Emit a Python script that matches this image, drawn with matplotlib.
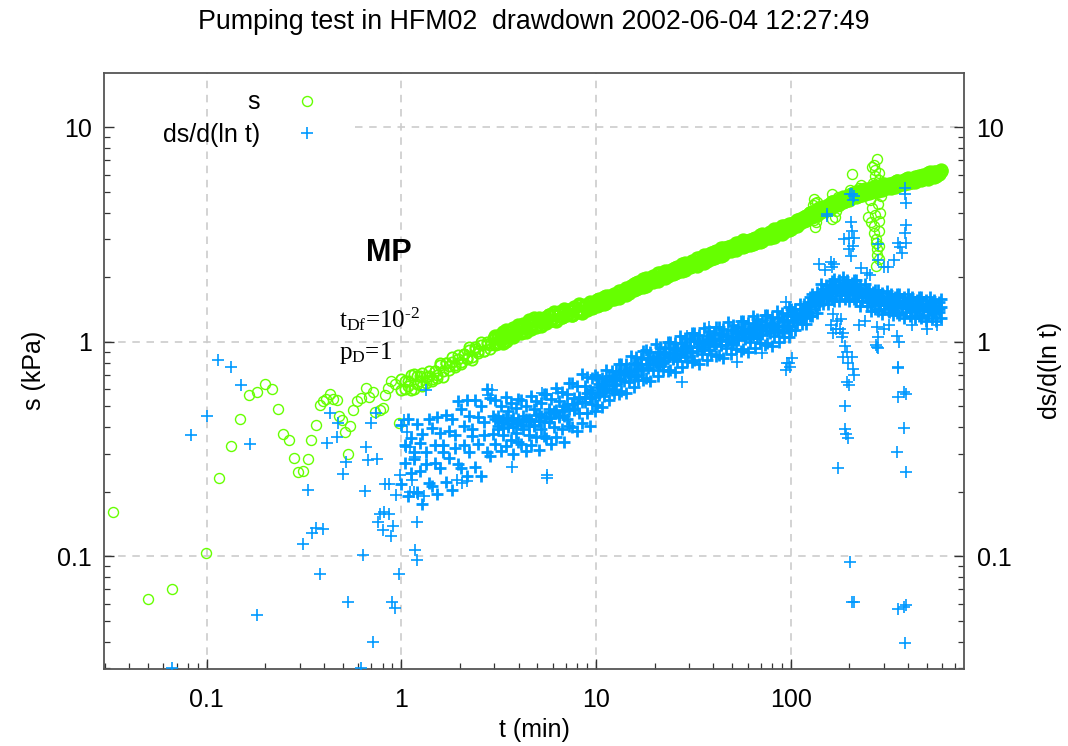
import numpy as np
import matplotlib
matplotlib.use("Agg")
import matplotlib.pyplot as plt
from matplotlib.ticker import LogLocator, NullFormatter

plt.rcParams['font.family'] = ['Liberation Sans', 'DejaVu Sans']
plt.rcParams['mathtext.fontset'] = 'custom'
plt.rcParams['mathtext.rm'] = 'Liberation Serif'
plt.rcParams['mathtext.it'] = 'Liberation Serif:italic'
plt.rcParams['mathtext.bf'] = 'Liberation Serif:bold'

# ---------------- data ----------------
# early drawdown points, t < 1 min
t_s_early = [0.0332, 0.050, 0.066, 0.0994, 0.116, 0.133, 0.149, 0.165, 0.181, 0.199,
             0.216, 0.232, 0.247, 0.265, 0.280, 0.296, 0.313, 0.330, 0.345, 0.363,
             0.381, 0.397, 0.410, 0.428, 0.446, 0.465, 0.478, 0.497, 0.515, 0.530,
             0.547, 0.564, 0.589, 0.617, 0.655, 0.684, 0.717, 0.736, 0.774, 0.800,
             0.828, 0.851, 0.886, 0.932, 0.973]
s_early = [0.160, 0.063, 0.0706, 0.103, 0.231, 0.326, 0.438, 0.563, 0.584, 0.638,
           0.605, 0.485, 0.373, 0.348, 0.286, 0.246, 0.251, 0.285, 0.348, 0.411,
           0.508, 0.530, 0.540, 0.573, 0.543, 0.534, 0.451, 0.432, 0.381, 0.301,
           0.404, 0.483, 0.532, 0.545, 0.611, 0.555, 0.580, 0.472, 0.481, 0.490,
           0.565, 0.608, 0.657, 0.637, 0.420]

# dense part of the record, t >= 1 min
t_band = [1.00, 1.04, 1.08, 1.12, 1.16, 1.20, 1.24, 1.28, 1.33, 1.38, 1.43, 1.48, 1.53, 1.58,
          1.64, 1.70, 1.76, 1.82, 1.88, 1.95, 2.02, 2.09, 2.16, 2.23, 2.31, 2.39, 2.47, 2.56,
          2.65, 2.74, 2.84, 2.94,
          3.04, 3.13, 3.23, 3.33, 3.43, 3.53, 3.64, 3.75, 3.87, 3.99, 4.11, 4.23, 4.36, 4.50,
          4.64, 4.78, 4.92, 5.07, 5.23, 5.39, 5.55, 5.72, 5.90, 6.08, 6.26, 6.45, 6.65, 6.85,
          7.06, 7.28, 7.50, 7.73, 7.96, 8.21, 8.46, 8.72, 8.98, 9.26, 9.54, 9.83,
          10.1, 10.4, 10.7, 11.0, 11.3, 11.7, 12.0, 12.4, 12.7, 13.1, 13.5, 13.9, 14.3, 14.7,
          15.1, 15.6, 16.0, 16.5, 17.0, 17.5, 18.0, 18.5, 19.0, 19.6, 20.2, 20.8, 21.4, 22.0,
          22.6, 23.3, 24.0, 24.7, 25.4, 26.1, 26.9, 27.7, 28.5, 29.3, 30.2, 31.1, 32.0, 32.9,
          33.9, 34.9, 35.9, 36.9, 38.0, 39.1, 40.2, 41.4, 42.6, 43.8, 45.1, 46.4, 47.8, 49.2,
          50.6, 52.1, 53.6, 55.2, 56.8, 58.4, 60.1, 61.9, 63.7, 65.5, 67.4, 69.4, 71.4, 73.5,
          75.6, 77.8, 80.1, 82.4, 84.8, 87.3, 89.8, 92.4, 95.1, 97.9,
          100, 103, 105, 108, 111, 114, 117, 120, 123, 126, 129, 133, 136, 140, 143, 147,
          151, 155, 159, 163, 167, 171, 176, 180, 185, 190, 195, 200, 205, 210, 216, 222,
          227, 233, 239, 246, 252, 259, 265, 272, 279, 287, 294, 302, 310, 318, 326, 334,
          343, 352, 361, 371, 380, 390, 400, 411, 421, 432, 444, 455, 467, 479, 492, 505,
          518, 531, 545, 559, 574, 589]
# two readings of the drawdown band (upper/lower side of the band) at these times
s_band = [0.669, 0.605, 0.656, 0.596, 0.705, 0.638, 0.691, 0.621, 0.682, 0.730, 0.667, 0.729,
          0.678, 0.777, 0.733, 0.800, 0.737, 0.806, 0.780, 0.869, 0.802, 0.874, 0.844, 0.919,
          0.845, 0.921, 0.890, 0.970, 0.910, 0.993, 0.961, 1.038,
          1.064, 0.985, 1.060, 0.990, 1.130, 1.057, 1.125, 1.051, 1.121, 1.192, 1.115, 1.175,
          1.107, 1.240, 1.191, 1.287, 1.175, 1.260, 1.185, 1.296, 1.231, 1.332, 1.267, 1.331,
          1.263, 1.381, 1.300, 1.391, 1.335, 1.400, 1.329, 1.438, 1.393, 1.476, 1.388, 1.472,
          1.425, 1.511, 1.435, 1.521,
          1.557, 1.482, 1.559, 1.498, 1.638, 1.579, 1.641, 1.579, 1.642, 1.727, 1.645, 1.714,
          1.645, 1.783, 1.765, 1.859, 1.875, 1.786, 1.879, 1.805, 1.975, 1.898, 1.976, 1.900,
          1.980, 2.081, 1.981, 2.062, 1.979, 2.146, 2.085, 2.193, 2.215, 2.106, 2.217, 2.130,
          2.331, 2.241, 2.334, 2.243, 2.337, 2.455, 2.338, 2.434, 2.337, 2.533, 2.461, 2.587,
          2.613, 2.486, 2.616, 2.512, 2.750, 2.644, 2.754, 2.646, 2.755, 2.896, 2.757, 2.871,
          2.757, 2.959, 2.874, 2.992, 3.023, 2.875, 3.025, 2.906, 3.180, 3.059, 3.184, 3.059,
          3.187, 3.349, 3.188, 3.321, 3.188, 3.456, 3.356, 3.529,
          3.520, 3.432, 3.571, 3.478, 3.745, 3.648, 3.808, 3.705, 3.828, 3.990, 3.842, 4.021,
          3.904, 4.165, 4.086, 4.259, 4.137, 4.307, 4.180, 4.484, 4.352, 4.525, 4.397, 4.528,
          4.715, 4.534, 4.722, 4.582, 4.866, 4.769, 4.967, 4.804, 4.978, 4.811, 5.140, 4.974,
          5.155, 4.985, 5.115, 5.301, 5.074, 5.265, 5.087, 5.383, 5.257, 5.448, 5.263, 5.455,
          5.271, 5.631, 5.444, 5.645, 5.454, 5.598, 5.799, 5.552, 5.754, 5.559, 5.882, 5.741,
          5.950, 5.751, 5.963, 5.761, 6.153, 5.948, 6.165, 5.957, 6.116, 6.276]
s_band_b = [0.593, 0.656, 0.624, 0.700, 0.601, 0.691, 0.657, 0.715, 0.641, 0.689, 0.653, 0.729,
            0.699, 0.792, 0.688, 0.800, 0.768, 0.845, 0.764, 0.828, 0.785, 0.874, 0.835, 0.945,
            0.818, 0.948, 0.909, 0.998, 0.901, 0.974, 0.922, 1.028,
            0.972, 1.067, 1.018, 1.116, 1.013, 1.111, 1.059, 1.161, 1.110, 1.158, 1.103, 1.210,
            1.154, 1.264, 1.143, 1.250, 1.187, 1.297, 1.235, 1.283, 1.218, 1.332, 1.267, 1.383,
            1.250, 1.368, 1.300, 1.418, 1.348, 1.400, 1.329, 1.452, 1.379, 1.504, 1.359, 1.486,
            1.410, 1.540, 1.464, 1.521,
            1.467, 1.574, 1.513, 1.622, 1.512, 1.627, 1.577, 1.677, 1.626, 1.595, 1.729, 1.663,
            1.783, 1.679, 1.819, 1.750, 1.766, 1.896, 1.823, 1.955, 1.823, 1.956, 1.898, 2.017,
            1.960, 1.921, 2.083, 2.001, 2.143, 2.021, 2.148, 2.065, 2.086, 2.237, 2.151, 2.308,
            2.151, 2.308, 2.242, 2.381, 2.314, 2.266, 2.458, 2.362, 2.532, 2.385, 2.536, 2.436,
            2.461, 2.640, 2.538, 2.721, 2.538, 2.723, 2.646, 2.809, 2.727, 2.674, 2.897, 2.786,
            2.987, 2.786, 2.961, 2.818, 2.847, 3.053, 2.935, 3.148, 2.936, 3.152, 3.060, 3.249,
            3.155, 3.091, 3.351, 3.222, 3.454, 3.254, 3.458, 3.323,
            3.365, 3.572, 3.483, 3.676, 3.563, 3.722, 3.640, 3.857, 3.790, 3.971, 3.822, 4.061,
            3.965, 4.185, 4.044, 4.217, 4.115, 4.349, 4.266, 4.462, 4.286, 4.525, 4.420, 4.641,
            4.486, 4.673, 4.558, 4.818, 4.723, 4.937, 4.748, 5.000, 4.855, 5.084, 4.890, 5.074,
            4.928, 5.189, 5.064, 5.276, 5.049, 5.317, 5.165, 5.409, 5.204, 5.394, 5.236, 5.509,
            5.380, 5.604, 5.362, 5.645, 5.482, 5.738, 5.517, 5.722, 5.555, 5.846, 5.709, 5.944,
            5.687, 5.985, 5.815, 6.087, 5.855, 6.068, 5.893, 6.201, 6.055, 6.307]
# upper and lower halves of the ds/d(ln t) cloud at the same times
ds_band_hi = [0.408, 0.331, 0.434, 0.356, 0.305, 0.412, 0.336, 0.372, 0.307, 0.435, 0.398, 0.331,
              0.445, 0.376, 0.330, 0.456, 0.383, 0.434, 0.366, 0.528, 0.486, 0.403, 0.537, 0.449,
              0.390, 0.536, 0.446, 0.503, 0.421, 0.605, 0.549, 0.453,
              0.534, 0.450, 0.500, 0.434, 0.550, 0.475, 0.517, 0.442, 0.492, 0.542, 0.534, 0.450,
              0.500, 0.435, 0.557, 0.486, 0.532, 0.459, 0.516, 0.573, 0.568, 0.484, 0.542, 0.474,
              0.607, 0.529, 0.580, 0.504, 0.570, 0.640, 0.640, 0.549, 0.619, 0.547, 0.706, 0.619,
              0.684, 0.596, 0.674, 0.700,
              0.682, 0.633, 0.679, 0.632, 0.740, 0.691, 0.733, 0.679, 0.727, 0.785, 0.791, 0.734,
              0.786, 0.732, 0.858, 0.799, 0.847, 0.785, 0.843, 0.909, 0.912, 0.841, 0.896, 0.832,
              0.972, 0.898, 0.948, 0.874, 0.932, 1.000, 1.001, 0.925, 0.987, 0.916, 1.067, 0.988,
              1.042, 0.960, 1.026, 1.102, 1.103, 1.012, 1.077, 0.997, 1.158, 1.067, 1.124, 1.031,
              1.098, 1.176, 1.172, 1.077, 1.146, 1.059, 1.232, 1.136, 1.196, 1.096, 1.168, 1.251,
              1.248, 1.146, 1.220, 1.129, 1.314, 1.209, 1.273, 1.169, 1.245, 1.334, 1.329, 1.222,
              1.300, 1.204, 1.398, 1.289, 1.358, 1.247, 1.329, 1.446,
              1.427, 1.341, 1.417, 1.341, 1.503, 1.427, 1.497, 1.421, 1.529, 1.608, 1.661, 1.589,
              1.700, 1.635, 1.850, 1.763, 1.847, 1.746, 1.851, 1.920, 1.956, 1.832, 1.938, 1.809,
              2.000, 1.868, 1.934, 1.807, 1.886, 1.934, 1.942, 1.778, 1.842, 1.700, 1.862, 1.724,
              1.768, 1.633, 1.700, 1.739, 1.747, 1.611, 1.681, 1.566, 1.727, 1.612, 1.665, 1.555,
              1.623, 1.665, 1.676, 1.549, 1.620, 1.509, 1.668, 1.560, 1.613, 1.506, 1.571, 1.612,
              1.623, 1.503, 1.572, 1.468, 1.622, 1.518, 1.572, 1.469, 1.536, 1.575]
ds_band_lo = [0.217, 0.271, 0.191, 0.244, 0.284, 0.200, 0.251, 0.175, 0.270, 0.220, 0.212, 0.271,
              0.196, 0.257, 0.307, 0.222, 0.286, 0.203, 0.321, 0.268, 0.259, 0.329, 0.237, 0.307,
              0.364, 0.260, 0.334, 0.236, 0.369, 0.306, 0.293, 0.371,
              0.334, 0.392, 0.309, 0.367, 0.325, 0.400, 0.350, 0.300, 0.375, 0.342, 0.334, 0.392,
              0.309, 0.368, 0.329, 0.409, 0.360, 0.312, 0.393, 0.362, 0.355, 0.421, 0.334, 0.401,
              0.359, 0.445, 0.393, 0.342, 0.435, 0.403, 0.400, 0.478, 0.382, 0.463, 0.417, 0.521,
              0.464, 0.405, 0.514, 0.476,
              0.506, 0.567, 0.497, 0.559, 0.603, 0.533, 0.598, 0.575, 0.635, 0.570, 0.587, 0.657,
              0.576, 0.647, 0.699, 0.616, 0.691, 0.664, 0.735, 0.660, 0.676, 0.753, 0.656, 0.735,
              0.792, 0.692, 0.774, 0.739, 0.813, 0.727, 0.742, 0.829, 0.722, 0.809, 0.870, 0.761,
              0.850, 0.812, 0.896, 0.801, 0.818, 0.907, 0.789, 0.881, 0.944, 0.822, 0.917, 0.872,
              0.958, 0.854, 0.869, 0.965, 0.839, 0.935, 1.004, 0.875, 0.976, 0.928, 1.020, 0.909,
              0.925, 1.027, 0.893, 0.997, 1.071, 0.932, 1.039, 0.989, 1.087, 0.969, 0.986, 1.095,
              0.952, 1.064, 1.140, 0.994, 1.108, 1.055, 1.160, 1.051,
              1.134, 1.237, 1.131, 1.223, 1.303, 1.211, 1.293, 1.214, 1.374, 1.319, 1.320, 1.467,
              1.357, 1.491, 1.604, 1.497, 1.595, 1.492, 1.663, 1.574, 1.554, 1.692, 1.547, 1.650,
              1.735, 1.586, 1.670, 1.544, 1.694, 1.585, 1.543, 1.642, 1.470, 1.550, 1.615, 1.463,
              1.527, 1.395, 1.527, 1.426, 1.388, 1.487, 1.342, 1.428, 1.497, 1.369, 1.438, 1.329,
              1.458, 1.365, 1.331, 1.429, 1.293, 1.375, 1.446, 1.325, 1.393, 1.287, 1.411, 1.321,
              1.290, 1.387, 1.255, 1.338, 1.406, 1.289, 1.358, 1.255, 1.379, 1.291]
# core of the ds/d(ln t) cloud from t = 3 min on (times = t_band[32:])
ds_band_core = [0.434, 0.404, 0.421, 0.396, 0.442, 0.413, 0.430, 0.400, 0.417, 0.438, 0.409, 0.425,
                0.434, 0.405, 0.426, 0.405, 0.455, 0.429, 0.450, 0.423, 0.444, 0.470, 0.443, 0.465,
                0.478, 0.450, 0.473, 0.451, 0.512, 0.487, 0.515, 0.488, 0.516, 0.552, 0.524, 0.554,
                0.574, 0.545, 0.577, 0.552,
                0.612, 0.579, 0.612, 0.583, 0.659, 0.628, 0.662, 0.627, 0.661, 0.705, 0.668, 0.706,
                0.730, 0.690, 0.728, 0.696, 0.788, 0.747, 0.789, 0.746, 0.786, 0.833, 0.784, 0.824,
                0.850, 0.799, 0.840, 0.798, 0.898, 0.846, 0.889, 0.838, 0.881, 0.933, 0.879, 0.924,
                0.951, 0.895, 0.942, 0.895, 1.008, 0.945, 0.991, 0.929, 0.973, 1.028, 0.966, 1.011,
                1.038, 0.975, 1.020, 0.965, 1.084, 1.018, 1.066, 1.000, 1.049, 1.107, 1.041, 1.090,
                1.119, 1.049, 1.100, 1.041, 1.170, 1.098, 1.151, 1.079, 1.132, 1.197, 1.123, 1.176,
                1.207, 1.134, 1.187, 1.124, 1.262, 1.187, 1.244, 1.187,
                1.312, 1.263, 1.313, 1.276, 1.357, 1.333, 1.402, 1.346, 1.416, 1.478, 1.527, 1.497,
                1.576, 1.555, 1.670, 1.646, 1.729, 1.653, 1.714, 1.765, 1.798, 1.727, 1.796, 1.721,
                1.805, 1.744, 1.811, 1.710, 1.746, 1.777, 1.786, 1.676, 1.707, 1.617, 1.681, 1.610,
                1.655, 1.545, 1.574, 1.598, 1.607, 1.518, 1.557, 1.489, 1.559, 1.506, 1.559, 1.472,
                1.503, 1.530, 1.541, 1.459, 1.501, 1.435, 1.506, 1.457, 1.510, 1.425, 1.455, 1.481,
                1.492, 1.416, 1.456, 1.396, 1.464, 1.418, 1.472, 1.390, 1.422, 1.447]

# drawdown points disturbed around 130-290 min
t_s_spike = [131, 133, 133, 131, 137, 128, 130, 135, 162, 166, 163, 168, 170, 174, 176, 180,
             202, 205, 206, 225, 230, 278, 266, 272, 270, 282, 262, 285, 255, 250, 266, 282,
             275, 278, 282, 275, 260, 270, 285, 273, 268, 280, 288, 258, 276, 284, 264, 290,
             274, 268]
s_spike = [4.61, 3.41, 4.45, 3.7, 4.5, 4.05, 4.35, 3.6, 4.9, 4.55, 3.75, 3.8, 4.08, 4.75, 4.3, 4.7,
           5.1, 6.03, 5.0, 5.2, 5.4, 7.14, 6.7, 6.3, 5.9, 6.1, 6.5, 5.7, 4.6, 3.8, 3.45, 3.65,
           3.0, 2.7, 2.42, 2.25, 4.2, 3.9, 3.3, 2.9, 3.2, 4.4, 4.0, 3.6, 2.55, 2.8, 5.5, 4.8,
           4.95, 5.2]

# scattered derivative points, t < 1.3 min
t_ds_early = [0.115, 0.133, 0.150, 0.100, 0.083, 0.167, 0.332, 0.182, 0.0667, 0.617,
              0.314, 0.349, 0.363, 0.397, 0.381, 0.530, 0.713, 0.632, 0.415, 0.430,
              0.472, 0.465, 0.517, 0.501, 0.660, 0.700, 0.739, 0.676, 0.748, 0.649,
              0.819, 0.859, 0.943, 0.980, 0.774, 0.812, 0.865, 0.760, 0.806, 0.907,
              0.886, 0.977, 0.896, 0.929]
ds_early = [0.818, 0.759, 0.630, 0.451, 0.369, 0.333, 0.203, 0.0534, 0.0300, 0.0300,
            0.1135, 0.128, 0.136, 0.134, 0.083, 0.061, 0.0398, 0.101, 0.339, 0.467,
            0.417, 0.361, 0.276, 0.242, 0.322, 0.417, 0.464, 0.281, 0.283, 0.202,
            0.217, 0.217, 0.192, 0.240, 0.158, 0.161, 0.158, 0.144, 0.133, 0.138,
            0.124, 0.083, 0.061, 0.0574]
t_ds_mid = [1.03, 1.07, 1.05, 1.11, 1.13, 1.16, 1.18, 1.20, 1.20, 1.18, 1.11, 2.91, 2.80, 5.25,
            6.35, 3.68, 5.57, 5.60, 1.93, 2.05, 2.17, 1.22, 1.30, 1.33, 94.0, 95.6, 94.5, 52.9,
            71.1, 27.7, 12.4, 14.5, 38.0, 29.4]
ds_mid = [0.432, 0.381, 0.324, 0.324, 0.226, 0.200, 0.107, 0.0958, 0.145, 0.291, 0.200, 0.597,
          0.565, 0.578, 0.578, 0.262, 0.240, 0.232, 0.226, 0.220, 0.224, 0.195, 0.190, 0.597,
          1.54, 0.80, 0.74, 0.806, 0.889, 0.65, 0.686, 0.716, 1.17, 1.06]
t_ds_spike = [153, 153, 202, 210, 208, 205, 203, 207, 212, 209, 200, 198, 204, 187, 160, 163,
              167, 140, 150, 385, 387, 390, 389, 384, 357, 362, 280, 281, 300, 315, 340, 372,
              389, 246, 228, 255,
              180, 186, 190, 195, 196, 185, 205, 208, 210, 198, 195, 189, 190, 193, 196, 174,
              202, 206, 210, 277, 279, 276, 279, 275, 350, 360, 357, 354, 357, 380, 390, 380,
              350, 390, 357, 382, 390, 384, 101, 98, 99, 160, 165, 170, 225, 240, 300, 320,
              420, 500, 560, 165, 172, 178, 183]
ds_spike = [3.92, 3.84, 4.86, 4.76, 4.6, 4.9, 3.6, 3.3, 3.06, 2.8, 3.06, 2.7, 2.5, 3.0, 2.36, 2.24,
            2.3, 2.3, 2.15, 5.2, 4.9, 4.45, 3.5, 3.2, 2.9, 2.77, 2.85, 2.4, 2.24, 2.24, 2.4, 2.6,
            2.9, 2.1, 2.2, 2.05,
            1.27, 1.1, 0.96, 0.90, 0.80, 0.85, 0.85, 0.75, 0.70, 0.63, 0.65, 0.50, 0.39, 0.37,
            0.355, 0.257, 0.094, 0.061, 0.061, 1.17, 1.05, 0.95, 0.94, 0.97, 1.06, 1.0, 0.76,
            0.754, 0.55, 0.58, 0.57, 0.398, 0.307, 0.248, 0.057, 0.058, 0.059, 0.0395, 0.84,
            0.80, 0.76, 1.2, 1.1, 1.15, 1.2, 1.25, 1.15, 1.2, 1.2, 1.15, 1.2, 1.35, 1.25, 1.15,
            1.05]

x_ticks = [0.1, 1, 10, 100]
x_ticklabels = ['0.1', '1', '10', '100']
y_ticks = [0.1, 1, 10]
y_ticklabels = ['0.1', '1', '10']
series_labels = ['s', 'ds/d(ln t)']
title = 'Pumping test in HFM02  drawdown 2002-06-04 12:27:49'

# ---------------- figure ----------------
W, H = 1068, 746
fig = plt.figure(figsize=(W / 100, H / 100), dpi=100)
L, R, T, B = 104, 964, 72.5, 669
ax = fig.add_axes([L / W, 1 - B / H, (R - L) / W, (B - T) / H])
ax.set_xscale('log')
ax.set_yscale('log')
ax.set_xlim(0.0297, 775)
ax.set_ylim(0.0298, 18.0)

GREEN = '#66ff00'
BLUE = '#0099ff'
t_core = t_band[32:]
n_early_band = 32  # t < 3 min: rings still visible individually

# drawdown: sparse points (thin rings) and the densely sampled band (rings overlap)
s_style = dict(ls='none', marker='o', mfc='none', mec=GREEN, zorder=3)
h1, = ax.plot(np.concatenate([t_s_early, t_s_spike]), np.concatenate([s_early, s_spike]),
              ms=7.2, mew=1.0, label=series_labels[0], **s_style)
ax.plot(np.concatenate([t_band[:n_early_band], t_band[:n_early_band]]),
        np.concatenate([s_band[:n_early_band], s_band_b[:n_early_band]]),
        ms=7.4, mew=1.3, **s_style)
ax.plot(np.concatenate([t_band[n_early_band:], t_band[n_early_band:]]),
        np.concatenate([s_band[n_early_band:], s_band_b[n_early_band:]]),
        ms=8.0, mew=2.3, **s_style)

# derivative: sparse points and dense cloud
d_style = dict(ls='none', marker='+', color=BLUE, zorder=4)
h2, = ax.plot(np.concatenate([t_ds_early, t_ds_mid, t_ds_spike]),
              np.concatenate([ds_early, ds_mid, ds_spike]),
              ms=8.5, mew=1.2, label=series_labels[1], **d_style)
ax.plot(np.concatenate([t_band, t_band, t_core]),
        np.concatenate([ds_band_hi, ds_band_lo, ds_band_core]),
        ms=9.2, mew=2.0, **d_style)

# grid
gkw = dict(color='#cccccc', lw=1.2, dashes=(4.5, 4), zorder=1)
for xv in x_ticks:
    ax.axvline(xv, **gkw)
ax.axhline(0.1, **gkw)
ax.axhline(1, **gkw)
ax.axhline(10, xmin=(355 - L) / (R - L), **gkw)

# axes styling
for sp in ax.spines.values():
    sp.set_color('#555555')
    sp.set_linewidth(1.3)
ax.set_xticks(x_ticks, labels=x_ticklabels)
ax.set_yticks(y_ticks, labels=y_ticklabels)
ax.xaxis.set_minor_locator(LogLocator(base=10, subs=np.arange(2, 10)))
ax.yaxis.set_minor_locator(LogLocator(base=10, subs=np.arange(2, 10)))
ax.xaxis.set_minor_formatter(NullFormatter())
ax.yaxis.set_minor_formatter(NullFormatter())
ax.tick_params(which='both', direction='in', colors='#333333', labelcolor='black',
               top=False, right=True, labelsize=18)
ax.tick_params(which='major', length=7, width=1.0)
ax.tick_params(which='minor', length=4, width=0.9)
ax.tick_params(axis='x', pad=14)
ax.tick_params(axis='y', pad=9, labelright=True)

ax.set_xlabel('t (min)', fontsize=18)
ax.xaxis.set_label_coords(0.5, -0.082)
ax.set_ylabel('s (kPa)', fontsize=18)
ax.yaxis.set_label_coords((46 - L) / (R - L), 0.5)
fig.text(1050 / W, 1 - 370 / H, 'ds/d(ln t)', rotation=90, fontsize=18,
         ha='center', va='center')

fig.text(0.5, 1 - 22 / H, title, fontsize=19.3, ha='center', va='center')

leg = ax.legend(handles=[h1, h2], loc='upper right', bbox_to_anchor=(0.2506, 0.970),
                frameon=False, markerfirst=False, fontsize=18, handlelength=1.0,
                handletextpad=1.38, labelspacing=0.35, borderpad=0, borderaxespad=0,
                numpoints=1)

ax.text(0.331, 0.698, 'MP', transform=ax.transAxes, fontsize=22, fontweight='bold',
        ha='center', va='center')
ax.text(0.273, 0.573, r'$\mathrm{t_{Df}}$=10$^{\text{-}2}$', transform=ax.transAxes,
        fontsize=18, family='Liberation Serif', ha='left', va='baseline')
ax.text(0.273, 0.519, r'$\mathrm{p_{D}}$=1', transform=ax.transAxes,
        fontsize=18, family='Liberation Serif', ha='left', va='baseline')

fig.savefig('out.png', dpi=100)
